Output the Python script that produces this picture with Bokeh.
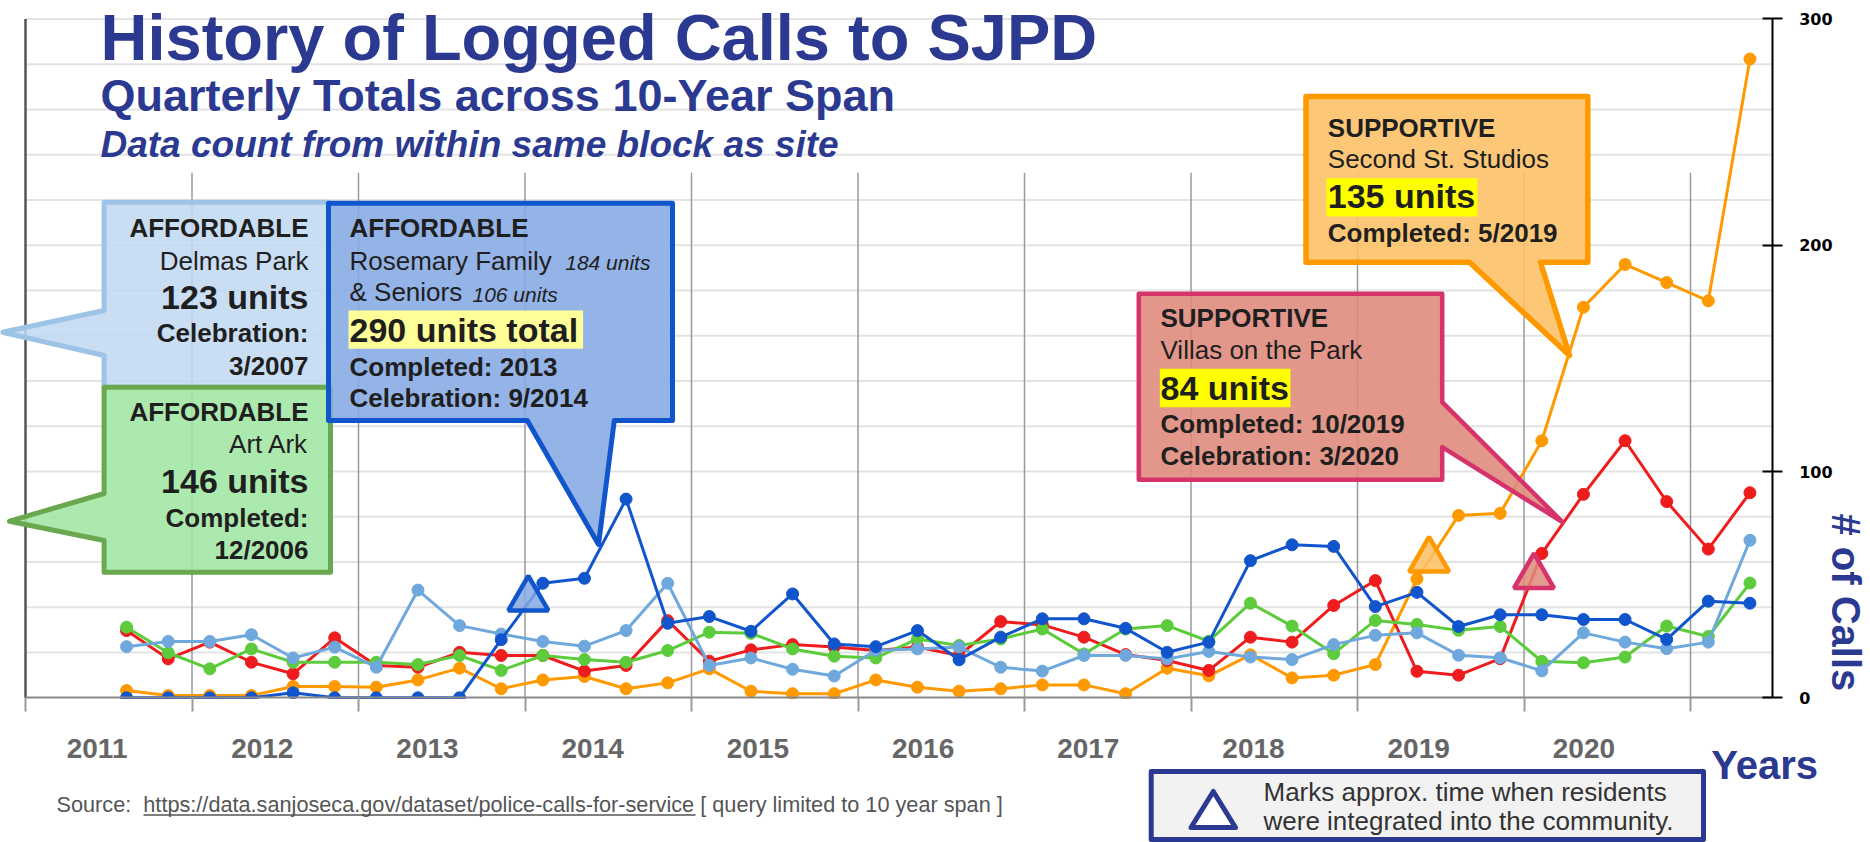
import math
from bokeh.plotting import figure
from bokeh.models import (Range1d, FixedTicker, PolyAnnotation, Label,
                          BoxAnnotation, ColumnDataSource)
from bokeh.embed import file_html
from bokeh.resources import INLINE

# ---------------- data ----------------
quarters = ["2011 Q3", "2011 Q4",
            "2012 Q1", "2012 Q2", "2012 Q3", "2012 Q4",
            "2013 Q1", "2013 Q2", "2013 Q3", "2013 Q4",
            "2014 Q1", "2014 Q2", "2014 Q3", "2014 Q4",
            "2015 Q1", "2015 Q2", "2015 Q3", "2015 Q4",
            "2016 Q1", "2016 Q2", "2016 Q3", "2016 Q4",
            "2017 Q1", "2017 Q2", "2017 Q3", "2017 Q4",
            "2018 Q1", "2018 Q2", "2018 Q3", "2018 Q4",
            "2019 Q1", "2019 Q2", "2019 Q3", "2019 Q4",
            "2020 Q1", "2020 Q2", "2020 Q3", "2020 Q4",
            "2021 Q1", "2021 Q2"]

villas_on_the_park = [29.7, 17.2, 24.6, 15.7, 10.6, 26.5, 14.3, 13.5, 20.1, 18.7,
                      18.7, 11.8, 14.3, 34.1, 16.2, 21.2, 23.5, 22.4, 20.9, 22.4,
                      18.7, 33.7, 32.2, 26.8, 19.1, 16.5, 12.1, 26.8, 24.6, 40.8,
                      51.8, 11.7, 10.0, 17.3, 63.8, 89.9, 113.6, 86.7, 65.7, 90.6]
art_ark = [31.2, 19.9, 12.8, 21.6, 15.7, 15.7, 15.7, 14.7, 18.7, 12.1,
           18.7, 16.9, 15.7, 20.9, 29.0, 28.5, 21.6, 18.4, 17.6, 26.0,
           23.1, 26.0, 30.4, 19.4, 30.4, 31.9, 25.0, 41.8, 31.7, 19.5,
           34.2, 32.4, 29.8, 31.5, 16.1, 15.5, 18.0, 31.7, 27.1, 50.7]
delmas_park = [22.6, 24.9, 24.9, 27.9, 17.6, 22.4, 13.5, 47.6, 31.9, 28.2,
               24.9, 22.8, 29.7, 50.6, 14.3, 17.6, 12.6, 9.6, 21.0, 21.6,
               22.4, 13.5, 11.8, 18.7, 18.7, 17.2, 20.5, 18.0, 16.9, 23.5,
               27.6, 28.7, 18.8, 17.7, 11.9, 28.7, 24.6, 21.7, 24.6, 69.6]
rosemary_family_seniors = [0, 0, 0, 0, 2.2, 0, 0, 0, 0, 25.7,
                           50.6, 52.8, 87.8, 32.9, 35.9, 29.4, 45.9, 23.8, 22.6, 29.7,
                           16.8, 26.8, 34.9, 34.9, 30.7, 20.1, 24.6, 60.6, 67.6, 66.9,
                           40.3, 46.6, 31.5, 36.7, 36.7, 34.6, 34.6, 25.8, 42.7, 41.8]
second_st_studios = [3.2, 1.0, 1.0, 1.0, 5.0, 5.0, 4.7, 7.9, 13.1, 4.0,
                     7.9, 9.4, 4.0, 6.6, 12.8, 2.9, 1.8, 1.8, 7.9, 4.7,
                     2.9, 4.0, 5.7, 5.7, 1.8, 13.1, 9.7, 19.0, 8.8, 10.0,
                     14.7, 52.5, 80.6, 81.5, 113.6, 172.6, 191.5, 183.5, 175.4, 282.3]

year_lines = [2011, 2012, 2013, 2014, 2015, 2016, 2017, 2018, 2019, 2020, 2021]
year_labels = ["2011", "2012", "2013", "2014", "2015", "2016", "2017", "2018", "2019", "2020"]
y_ticks = [0, 100, 200, 300]
grid_values = [20, 40, 60, 80, 100, 120, 140, 160, 180, 200, 220, 240, 260, 280, 300]

# approximate time residents were integrated (triangles)
integration_time = [2014.02, 2019.43, 2020.06]
integration_calls = [43.7, 60.9, 53.6]
integration_fill = ["#85A8E4", "#FCC064", "#DE897A"]
integration_line = ["#1155CC", "#FF9900", "#D6336C"]

# ---------------- geometry helpers (page pixel -> data) ----------------
W, H = 1870, 842
PX0, PXY = 25.0, 166.5     # x pixel of 2011, pixels per year
PY0, PYU = 697.3, 2.263    # y pixel of 0 calls, pixels per call


def X(px):
    return 2011 + (px - PX0) / PXY


def Y(py):
    return (PY0 - py) / PYU


AXIS_X = X(1771.7)

p = figure(width=W, height=H,
           x_range=Range1d(X(0), X(W)), y_range=Range1d(Y(H), Y(0)),
           y_axis_location="right", output_backend="svg", toolbar_location=None,
           min_border=0, min_border_left=0, min_border_right=0,
           min_border_top=0, min_border_bottom=0)
p.outline_line_color = None
p.background_fill_color = "white"
p.border_fill_color = "white"
p.xgrid.visible = False
p.ygrid.visible = False

FONT = "Liberation Sans"
NAVY = "#2B3990"

# x axis, drawn at 0 calls
label_pos = [round(int(l) + 0.43 - 0.0078 * (int(l) - 2011), 4) for l in year_labels]
xa = p.xaxis[0]
xa.fixed_location = 0
xa.bounds = (2011, AXIS_X)
xa.ticker = FixedTicker(ticks=label_pos, minor_ticks=year_lines)
xa.major_label_overrides = {pos: lab for pos, lab in zip(label_pos, year_labels)}
xa.major_tick_in = 0
xa.major_tick_out = 0
xa.minor_tick_in = 0
xa.minor_tick_out = 14
xa.minor_tick_line_color = "#999999"
xa.minor_tick_line_width = 2
xa.axis_line_color = "#8a8a8a"
xa.axis_line_width = 2
xa.major_label_text_font = FONT
xa.major_label_text_font_size = "28px"
xa.major_label_text_font_style = "bold"
xa.major_label_text_color = "#666666"
xa.major_label_standoff = 27

# y axis on the right
ya = p.yaxis[0]
ya.fixed_location = AXIS_X
ya.ticker = FixedTicker(ticks=y_ticks)
ya.bounds = (0, 300)
ya.axis_line_color = "black"
ya.axis_line_width = 2
ya.major_tick_in = 10
ya.major_tick_out = 10
ya.major_tick_line_color = "black"
ya.major_tick_line_width = 2
ya.minor_tick_line_color = None
ya.major_label_text_font = "DejaVu Sans"
ya.major_label_text_font_size = "16px"
ya.major_label_text_font_style = "bold"
ya.major_label_text_color = "black"
ya.major_label_standoff = 17

# horizontal grid lines between the 2011 line and the axis
p.segment(x0=year_lines[0], y0=grid_values, x1=AXIS_X, y1=grid_values,
          line_color="#e3e3e3", line_width=2)
# vertical year lines
p.segment(x0=year_lines[1:], y0=0, x1=year_lines[1:], y1=Y(172.3),
          line_color="#9a9a9a", line_width=1.5)
p.segment(x0=year_lines[:1], y0=0, x1=year_lines[:1], y1=300,
          line_color="#555555", line_width=2.5)

# data series
xq = [int(q[:4]) + (int(q[-1]) - 1) * 0.25 + 0.107 for q in quarters]
series = [(second_st_studios, "#FF9900"),
          (villas_on_the_park, "#EE1C1C"),
          (art_ark, "#5CCB3C"),
          (delmas_park, "#6FA8DC"),
          (rosemary_family_seniors, "#1155CC")]
for vals, c in series:
    src = ColumnDataSource(dict(x=xq, y=vals))
    p.line("x", "y", source=src, line_color=c, line_width=3)
    p.scatter("x", "y", source=src, size=12, fill_color=c, line_color=c)

tri = ColumnDataSource(dict(x=integration_time, y=integration_calls,
                            f=integration_fill, l=integration_line))
p.scatter("x", "y", source=tri, marker="triangle", size=40, fill_color="f",
          fill_alpha=0.85, line_color="l", line_width=4.5)

# hide the part of the markers that falls below the zero line
p.add_layout(BoxAnnotation(left=X(10), right=X(1768), top=Y(698.4), bottom=Y(706),
                           fill_color="white", fill_alpha=1.0, line_color=None,
                           level="glyph"))


# ---------------- annotations ----------------
def poly(pts, fill, line, lw, alpha=0.88):
    p.add_layout(PolyAnnotation(xs=[X(a) for a, b in pts], ys=[Y(b) for a, b in pts],
                                fill_color=fill, fill_alpha=alpha, line_color=line,
                                line_alpha=1.0, line_width=lw, line_join="round"))


def hbox(x0, y0, x1, y1, color):
    p.add_layout(BoxAnnotation(left=X(x0), right=X(x1), top=Y(y0), bottom=Y(y1),
                               fill_color=color, fill_alpha=1.0, line_color=None))


BASE_SHIFT = 0.34   # renderer draws "alphabetic" text about a third of an em lower


def txt(s, px, py, size, style="normal", color="#1f1f1f", align="left", rotated=False):
    if rotated:
        px += BASE_SHIFT * size
        ang = -math.pi / 2
    else:
        py -= BASE_SHIFT * size
        ang = 0.0
    p.add_layout(Label(x=X(px), y=Y(py), text=s, text_font=FONT,
                       text_font_size=f"{size}px", text_font_style=style,
                       text_color=color, text_align=align,
                       text_baseline="alphabetic", angle=ang))


# Delmas Park (light blue)
poly([(103.6, 201.7), (328, 201.7), (328, 386.7), (103.6, 386.7), (103.6, 355),
      (2, 331.7), (103.6, 310)], "#BFD7F1", "#9DC3E6", 5, 0.85)
# Art Ark (green)
poly([(103.6, 386.7), (330, 386.7), (330, 571.7), (103.6, 571.7), (103.6, 540),
      (9, 520.7), (103.6, 493)], "#A0E6A4", "#6AA84F", 5)
# Rosemary (blue)
poly([(328, 202.7), (672, 202.7), (672, 420), (613.8, 420), (598, 544),
      (526.8, 420), (328, 420)], "#85A8E4", "#1155CC", 5)
# Second St. Studios (orange)
poly([(1305.5, 96), (1587.3, 96), (1587.3, 261.7), (1540, 261.7), (1569, 355),
      (1469, 261.7), (1305.5, 261.7)], "#FCC064", "#FF9900", 5.5)
# Villas on the Park (crimson)
poly([(1138.3, 293.3), (1441.7, 293.3), (1441.7, 401.7), (1562, 521.5),
      (1441.7, 446.7), (1441.7, 479.3), (1138.3, 479.3)], "#DE897A", "#D6336C", 4.5)

# highlights
hbox(348, 310, 582.6, 348.3, "#FFFF99")
hbox(1326, 177.7, 1477, 216, "#FFFF00")
hbox(1159.3, 368.3, 1290, 406.7, "#FFFF00")

# Delmas text
txt("AFFORDABLE", 308, 236.7, 26, "bold", align="right")
txt("Delmas Park", 308, 269.3, 26, align="right")
txt("123 units", 308, 308.3, 34, "bold", align="right")
txt("Celebration:", 308, 341.7, 26, "bold", align="right")
txt("3/2007", 308, 374, 26, "bold", align="right")
# Art Ark text
txt("AFFORDABLE", 308, 420, 26, "bold", align="right")
txt("Art Ark", 308, 452.7, 26, align="right")
txt("146 units", 308, 491.7, 34, "bold", align="right")
txt("Completed:", 308, 526.7, 26, "bold", align="right")
txt("12/2006", 308, 558.3, 26, "bold", align="right")
# Rosemary text
txt("AFFORDABLE", 349, 236.7, 26, "bold")
txt("Rosemary Family", 349, 269.3, 26)
txt("184 units", 564.7, 269.3, 21, "italic")
txt("& Seniors", 349, 300.7, 26)
txt("106 units", 472, 300.7, 21, "italic")
txt("290 units total", 349, 341, 34, "bold")
txt("Completed: 2013", 349, 375, 26, "bold")
txt("Celebration: 9/2014", 349, 406.7, 26, "bold")
# Second St text
txt("SUPPORTIVE", 1327.3, 136, 26, "bold")
txt("Second St. Studios", 1327.3, 167.7, 26)
txt("135 units", 1327.3, 207.3, 34, "bold")
txt("Completed: 5/2019", 1327.3, 241.7, 26, "bold")
# Villas text
txt("SUPPORTIVE", 1160, 326, 26, "bold")
txt("Villas on the Park", 1160, 358.3, 26)
txt("84 units", 1160, 399.3, 34, "bold")
txt("Completed: 10/2019", 1160, 432.7, 26, "bold")
txt("Celebration: 3/2020", 1160, 464.3, 26, "bold")

# titles
txt("History of Logged Calls to SJPD", 100, 59.5, 65, "bold", NAVY)
txt("Quarterly Totals across 10-Year Span", 100, 110, 45, "bold", NAVY)
txt("Data count from within same block as site", 100, 157, 37, "bold italic", NAVY)

# axis titles
txt("Years", 1710.7, 778.3, 40, "bold", NAVY)
txt("# of Calls", 1832, 513, 40, "bold", NAVY, rotated=True)

# source
txt("Source:\u00a0 https://data.sanjoseca.gov/dataset/police-calls-for-service [ query limited to 10 year span ]",
    56, 811.7, 21.7, color="#555555")
p.add_layout(PolyAnnotation(xs=[X(143), X(695)], ys=[Y(814.5), Y(814.5)],
                            fill_alpha=0, line_color="#555555", line_alpha=1.0,
                            line_width=1.5))

# legend box
poly([(1150.7, 771), (1703, 771), (1703, 839), (1150.7, 839)], "#F2F2F2", NAVY, 5, 1.0)
poly([(1212.8, 791), (1235, 827), (1190.5, 827)], "white", NAVY, 5, 1.0)
txt("Marks approx. time when residents", 1263, 800, 26, color="#333333")
txt("were integrated into the community.", 1263, 829, 26, color="#333333")

open("out.html", "w").write(file_html(p, INLINE))
